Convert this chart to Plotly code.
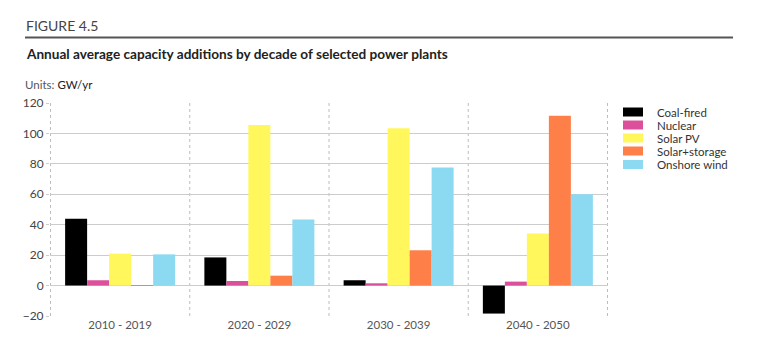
import plotly.graph_objects as go

decades = ["2010 - 2019", "2020 - 2029", "2030 - 2039", "2040 - 2050"]
series_names = ["Coal-fired", "Nuclear", "Solar PV", "Solar+storage", "Onshore wind"]
coal = [44.0, 18.5, 3.5, -18.4]
nuclear = [3.5, 3.0, 1.5, 2.6]
solar_pv = [21.0, 105.5, 103.4, 34.3]
solar_storage = [0.3, 6.5, 23.2, 111.7]
onshore_wind = [20.5, 43.5, 77.6, 60.1]
colors = ["#000000", "#dc4f9b", "#fff75c", "#ff7f48", "#8cdaf2"]
y_ticks = [-20, 0, 20, 40, 60, 80, 100, 120]

values = [coal, nuclear, solar_pv, solar_storage, onshore_wind]
FONT = "Lato"

fig = go.Figure()
for name, vals, col in zip(series_names, values, colors):
    fig.add_trace(go.Bar(x=decades, y=vals, name=name, marker_color=col,
                         marker_line_width=0, showlegend=False))

shapes = []
for i in range(len(decades) + 1):
    shapes.append(dict(type="line", xref="x", yref="y", x0=i - 0.5, x1=i - 0.5,
                       y0=-20, y1=120, line=dict(color="#bdbdbd", width=1, dash="dot"),
                       layer="below"))

fig.update_layout(
    width=768, height=353,
    margin=dict(l=50, r=160, t=103, b=37),
    paper_bgcolor="white", plot_bgcolor="white",
    barmode="group", bargap=0.21, bargroupgap=0,
    font=dict(family=FONT, size=11, color="#444444"),
    xaxis=dict(showgrid=False, showline=False, ticks="",
               tickfont=dict(size=11.5, color="#555555")),
    yaxis=dict(range=[-20, 120], tickvals=y_ticks,
               ticktext=[("\u2212" + str(-v)) if v < 0 else str(v) for v in y_ticks],
               showgrid=True, gridcolor="#cccccc", gridwidth=1,
               zeroline=True, zerolinecolor="#cccccc", zerolinewidth=1,
               showline=False, ticks="outside", ticklen=3, tickcolor="#cccccc",
               tickfont=dict(size=12, color="#444444")),
)

pw = 768 - 50 - 160
ph = 353 - 103 - 37
def px(x):
    return (x - 50) / pw
def py(y):
    return (353 - 37 - y) / ph

shapes.append(dict(type="line", xref="paper", yref="paper", x0=px(25), x1=px(733),
                   y0=py(37.5), y1=py(37.5), line=dict(color="#555555", width=2)))

leg_y = [112, 125, 138, 151, 164.5]
for name, col, yy in zip(series_names, colors, leg_y):
    shapes.append(dict(type="rect", xref="paper", yref="paper",
                       x0=px(623), x1=px(643), y0=py(yy - 4.5), y1=py(yy + 4.5),
                       fillcolor=col, line=dict(width=0)))
    fig.add_annotation(xref="paper", yref="paper", x=px(655), y=py(yy), text=name,
                       showarrow=False, xanchor="left", yanchor="middle",
                       font=dict(family=FONT, size=11.5, color="#333333"))

fig.update_layout(shapes=shapes)

fig.add_annotation(xref="paper", yref="paper", x=px(24), y=py(25.5), text="FIGURE 4.5",
                   showarrow=False, xanchor="left", yanchor="middle",
                   font=dict(family=FONT, size=14, color="#444444"))
fig.add_annotation(xref="paper", yref="paper", x=px(24), y=py(54.5),
                   text="<b>Annual average capacity additions by decade of selected power plants</b>",
                   showarrow=False, xanchor="left", yanchor="middle",
                   font=dict(family=FONT, size=13.6, color="#222222"))
fig.add_annotation(xref="paper", yref="paper", x=px(23), y=py(85),
                   text="<span style='color:#555555'>Units:</span> GW/yr",
                   showarrow=False, xanchor="left", yanchor="middle",
                   font=dict(family=FONT, size=11.5, color="#222222"))

fig.write_html("out.html")
